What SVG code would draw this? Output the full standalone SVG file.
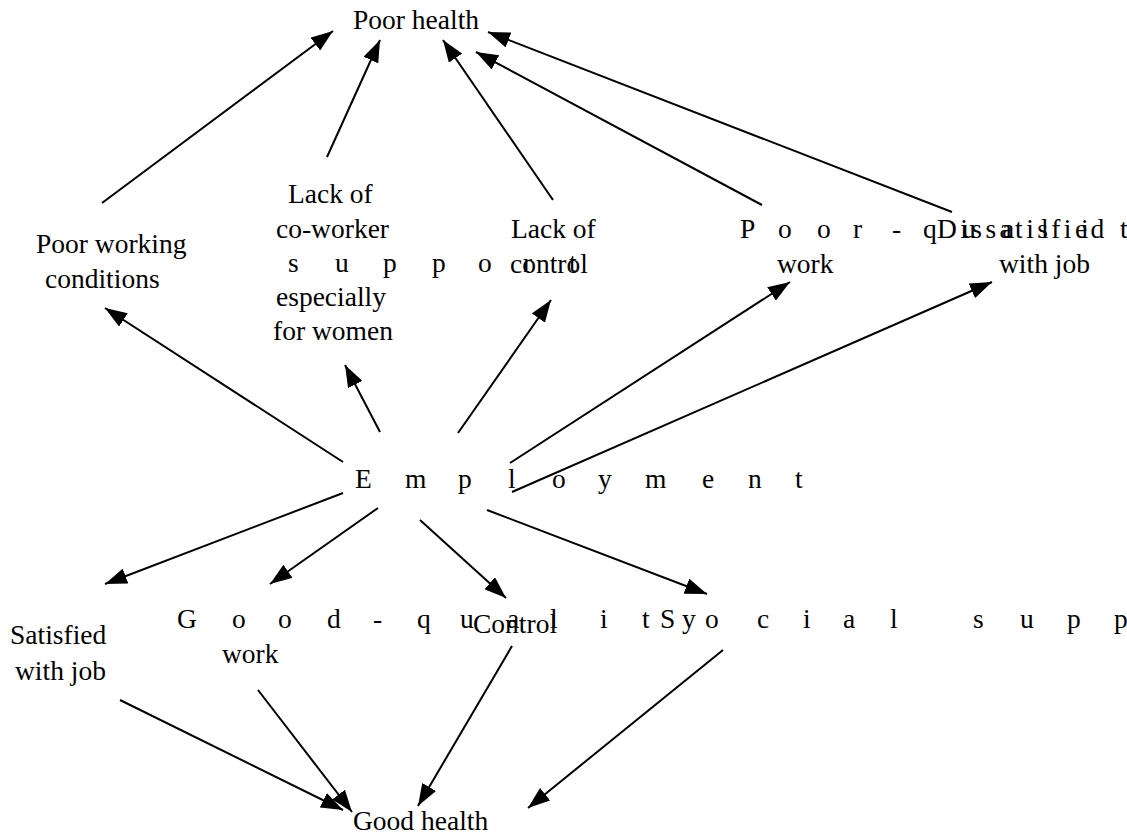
<svg xmlns="http://www.w3.org/2000/svg" width="1127" height="839" viewBox="0 0 1127 839">
  <style>
    .edge { stroke: #000; stroke-width: 2; fill: none; marker-end: url(#ah); }
  </style>
  <defs>
    <marker id="ah" viewBox="0 0 22 16" refX="22" refY="8" markerWidth="22" markerHeight="16" markerUnits="userSpaceOnUse" orient="auto">
      <path d="M0,0 L22,8 L0,16 z" fill="#000"/>
    </marker>
  </defs>
  <rect width="1127" height="839" fill="#fff"/>

  <g id="connectors">
    <!-- into Poor health -->
    <line class="edge" x1="102" y1="203" x2="333" y2="31"/>
    <line class="edge" x1="327" y1="157" x2="380" y2="40"/>
    <line class="edge" x1="553" y1="200" x2="443" y2="40"/>
    <line class="edge" x1="762" y1="205" x2="476" y2="52"/>
    <line class="edge" x1="952" y1="212" x2="488" y2="32"/>
    <!-- Employment to adverse factors -->
    <line class="edge" x1="343" y1="462" x2="105" y2="308"/>
    <line class="edge" x1="380" y1="432" x2="345" y2="365"/>
    <line class="edge" x1="458" y1="433" x2="551" y2="300"/>
    <line class="edge" x1="510" y1="463" x2="790" y2="282"/>
    <line class="edge" x1="512" y1="492" x2="992" y2="282"/>
    <!-- Employment to protective factors -->
    <line class="edge" x1="343" y1="493" x2="105" y2="584"/>
    <line class="edge" x1="378" y1="508" x2="270" y2="584"/>
    <line class="edge" x1="420" y1="520" x2="506" y2="598"/>
    <line class="edge" x1="487" y1="510" x2="707" y2="594"/>
    <!-- into Good health -->
    <line class="edge" x1="120" y1="700" x2="343" y2="810"/>
    <line class="edge" x1="258" y1="690" x2="352" y2="812"/>
    <line class="edge" x1="512" y1="646" x2="418" y2="806"/>
    <line class="edge" x1="723" y1="650" x2="528" y2="808"/>
  </g>

  <g font-family="Liberation Serif, serif" font-size="27.5" fill="#000">
    <g id="poor-health"><text x="353" y="29">Poor health</text></g>

    <g id="poor-working-conditions">
      <text x="36" y="253">Poor working</text>
      <text x="45" y="288">conditions</text>
    </g>

    <g id="lack-coworker-support">
      <text x="288" y="203">Lack of</text>
      <text x="276" y="238">co-worker</text>
      <text x="288 335 383 432 478 523 569" y="272">support</text>
      <text x="276" y="306">especially</text>
      <text x="273" y="340">for women</text>
    </g>

    <g id="lack-of-control">
      <text x="511" y="238">Lack of</text>
      <text x="510" y="273">control</text>
    </g>

    <g id="poor-quality-work">
      <text x="740 778 817 853 892 923 962 1002 1041 1081 1120 1159" y="238">Poor-quality</text>
      <text x="777" y="273">work</text>
    </g>

    <g id="dissatisfied">
      <text x="937" y="238" letter-spacing="3.4">Dissatisfied</text>
      <text x="999" y="273">with job</text>
    </g>

    <g id="employment">
      <text x="355 405 458 508 552 598 645 702 748 795" y="488">Employment</text>
    </g>

    <g id="satisfied">
      <text x="10" y="644">Satisfied</text>
      <text x="15" y="680">with job</text>
    </g>

    <g id="good-quality-work">
      <text x="177 232 278 327 373 417 460 507 550 600 642 682" y="628">Good-quality</text>
      <text x="222" y="663">work</text>
    </g>

    <g id="control"><text x="473" y="633">Control</text></g>

    <g id="social-support">
      <text x="660 705 757 803 843 890 930 973 1020 1067 1114 1161 1208 1255" y="628">Social support</text>
    </g>

    <g id="good-health"><text x="353" y="830">Good health</text></g>
  </g>
</svg>
